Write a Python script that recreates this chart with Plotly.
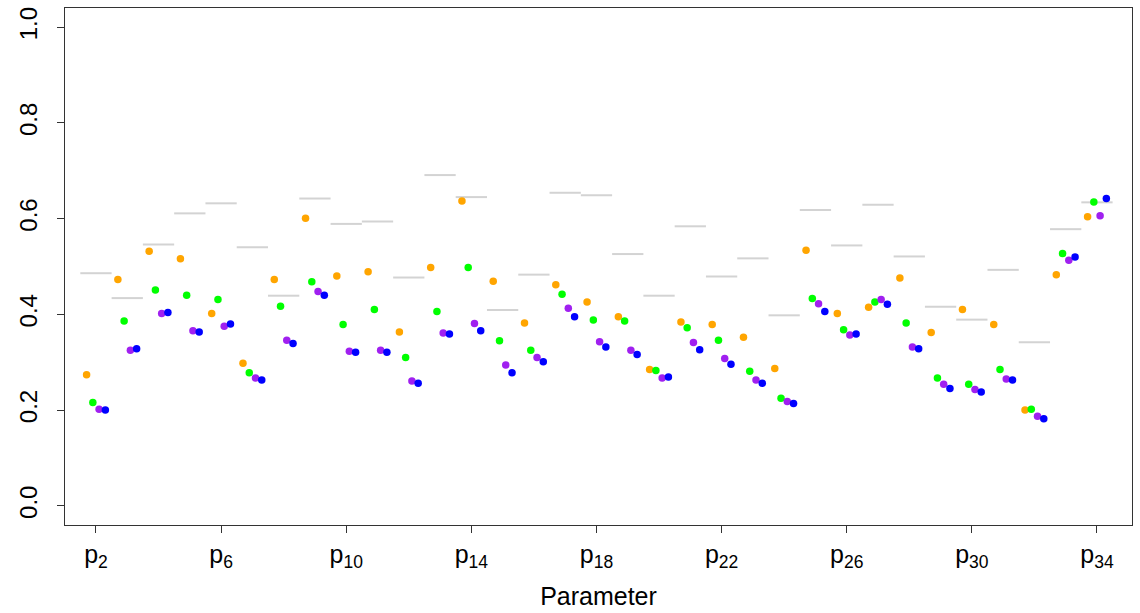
import plotly.graph_objects as go

params = list(range(2, 35))
ref_line = [0.486, 0.434, 0.546, 0.611, 0.632, 0.540, 0.439, 0.642, 0.589, 0.594, 0.477,
            0.691, 0.645, 0.409, 0.483, 0.654, 0.649, 0.526, 0.439, 0.584, 0.479, 0.517,
            0.398, 0.618, 0.544, 0.629, 0.521, 0.416, 0.389, 0.493, 0.342, 0.578, 0.634]
orange_vals = [0.274, 0.473, 0.532, 0.516, 0.402, 0.298, 0.473, 0.601, 0.480, 0.489, 0.363,
               0.498, 0.637, 0.469, 0.382, 0.462, 0.426, 0.395, 0.285, 0.384, 0.379, 0.352,
               0.287, 0.534, 0.402, 0.415, 0.476, 0.362, 0.410, 0.379, 0.200, 0.483, 0.604]
green_vals = [0.216, 0.386, 0.451, 0.440, 0.431, 0.278, 0.417, 0.468, 0.379, 0.410, 0.310,
              0.406, 0.498, 0.345, 0.325, 0.442, 0.388, 0.386, 0.283, 0.372, 0.346, 0.281,
              0.225, 0.433, 0.368, 0.426, 0.382, 0.267, 0.254, 0.285, 0.202, 0.527, 0.635]
purple_vals = [0.202, 0.325, 0.402, 0.366, 0.375, 0.267, 0.346, 0.448, 0.323, 0.325, 0.261,
               0.361, 0.381, 0.294, 0.310, 0.413, 0.343, 0.325, 0.267, 0.341, 0.308, 0.263,
               0.218, 0.422, 0.357, 0.431, 0.332, 0.254, 0.243, 0.265, 0.187, 0.513, 0.606]
blue_vals = [0.200, 0.328, 0.404, 0.363, 0.380, 0.263, 0.339, 0.440, 0.321, 0.321, 0.256,
             0.359, 0.366, 0.278, 0.301, 0.395, 0.332, 0.316, 0.269, 0.326, 0.296, 0.256,
             0.214, 0.406, 0.359, 0.421, 0.328, 0.245, 0.238, 0.263, 0.182, 0.520, 0.642]
tick_params = [2, 6, 10, 14, 18, 22, 26, 30, 34]
y_ticks = [0.0, 0.2, 0.4, 0.6, 0.8, 1.0]

idx = [p - 1 for p in params]

fig = go.Figure()

# grey reference segments (one per parameter, spanning +-0.5)
lx, ly = [], []
for i, v in zip(idx, ref_line):
    lx += [i - 0.5, i + 0.5, None]
    ly += [v, v, None]
fig.add_trace(go.Scatter(x=lx, y=ly, mode="lines",
                         line=dict(color="#D3D3D3", width=2), hoverinfo="skip"))

series = [(orange_vals, "#FFA500", -0.3), (green_vals, "#00FF00", -0.1),
          (purple_vals, "#A020F0", 0.1), (blue_vals, "#0000FF", 0.3)]
for vals, col, off in series:
    fig.add_trace(go.Scatter(x=[i + off for i in idx], y=vals, mode="markers",
                             marker=dict(color=col, size=7.5, line=dict(width=0))))

font_family = "Liberation Sans, Arial, sans-serif"
fig.update_layout(
    width=1140, height=613,
    margin=dict(l=65, r=7, t=7, b=83),
    paper_bgcolor="white", plot_bgcolor="white",
    showlegend=False,
    font=dict(family=font_family, size=22, color="black"),
)
fig.update_xaxes(
    range=[0.01, 34.12], showgrid=False, zeroline=False,
    showline=True, mirror=True, linecolor="#333333", linewidth=1.3,
    ticks="outside", ticklen=7, tickcolor="#333333",
    tickvals=[p - 1 for p in tick_params],
    ticktext=[f"p<sub>{p}</sub>" for p in tick_params],
    tickfont=dict(size=25),
    title=dict(text="Parameter", font=dict(size=25), standoff=16),
)
fig.update_yaxes(
    range=[-0.04, 1.04], showgrid=False, zeroline=False,
    showline=True, mirror=True, linecolor="#333333", linewidth=1.3,
    ticks="outside", ticklen=7, tickcolor="#333333",
    tickvals=y_ticks, ticktext=[f"{v:.1f}" for v in y_ticks],
    tickangle=-90, tickfont=dict(size=24), ticklabelstandoff=10,
)

fig.write_html("out.html")
